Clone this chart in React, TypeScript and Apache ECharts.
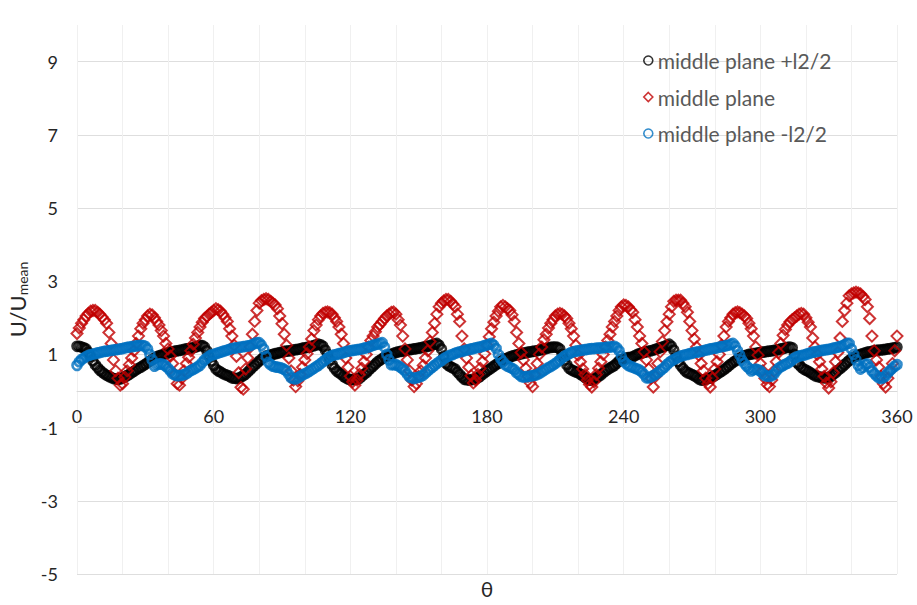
import { useEffect, useRef } from "react";
import * as echarts from "echarts";

// θ positions: first value and step (degrees)
const THETA_START = 0;
const THETA_STEP = 1;

const SERIES_NAMES = ["middle plane +l2/2", "middle plane", "middle plane -l2/2"];

// U/Umean read every 1° (θ = 0 … 360) from the reference
const PLANE_PLUS = [
  1.22, 1.22, 1.2, 1.18, 1.15, 1.06, 0.95, 0.82, 0.72, 0.64,
  0.57, 0.52, 0.47, 0.43, 0.4, 0.37, 0.34, 0.33, 0.32, 0.33,
  0.36, 0.39, 0.42, 0.46, 0.5, 0.54, 0.58, 0.62, 0.65, 0.69,
  0.73, 0.78, 0.82, 0.86, 0.9, 0.93, 0.96, 0.98, 1.0, 1.02,
  1.04, 1.06, 1.07, 1.09, 1.1, 1.11, 1.12, 1.14, 1.15, 1.16,
  1.17, 1.18, 1.2, 1.22, 1.25, 1.24, 1.2, 1.1, 0.95, 0.82,
  0.7, 0.6, 0.55, 0.52, 0.48, 0.45, 0.43, 0.4, 0.36, 0.35,
  0.34, 0.35, 0.38, 0.42, 0.46, 0.52, 0.58, 0.64, 0.7, 0.76,
  0.82, 0.87, 0.92, 0.95, 0.97, 0.99, 1.0, 1.02, 1.03, 1.05,
  1.06, 1.08, 1.09, 1.1, 1.1, 1.12, 1.13, 1.14, 1.15, 1.17,
  1.18, 1.19, 1.2, 1.22, 1.24, 1.26, 1.28, 1.26, 1.22, 1.12,
  1.0, 0.85, 0.72, 0.62, 0.55, 0.5, 0.46, 0.4, 0.36, 0.33,
  0.31, 0.31, 0.32, 0.33, 0.34, 0.4, 0.45, 0.5, 0.56, 0.62,
  0.68, 0.74, 0.8, 0.84, 0.88, 0.92, 0.95, 0.98, 1.0, 1.03,
  1.05, 1.07, 1.08, 1.09, 1.1, 1.12, 1.13, 1.14, 1.15, 1.16,
  1.17, 1.18, 1.2, 1.21, 1.22, 1.24, 1.26, 1.28, 1.3, 1.25,
  1.15, 0.95, 0.75, 0.7, 0.66, 0.63, 0.6, 0.52, 0.45, 0.38,
  0.32, 0.31, 0.3, 0.31, 0.32, 0.34, 0.36, 0.4, 0.45, 0.5,
  0.55, 0.59, 0.63, 0.68, 0.72, 0.76, 0.8, 0.84, 0.88, 0.9,
  0.93, 0.95, 0.97, 0.99, 1.0, 1.02, 1.03, 1.05, 1.06, 1.07,
  1.08, 1.09, 1.1, 1.12, 1.13, 1.15, 1.16, 1.18, 1.19, 1.2,
  1.2, 1.19, 1.15, 1.0, 0.85, 0.72, 0.62, 0.58, 0.55, 0.52,
  0.5, 0.46, 0.42, 0.37, 0.33, 0.3, 0.3, 0.33, 0.36, 0.4,
  0.44, 0.5, 0.55, 0.59, 0.63, 0.66, 0.7, 0.76, 0.82, 0.85,
  0.88, 0.9, 0.91, 0.92, 0.93, 0.97, 1.0, 1.02, 1.04, 1.06,
  1.07, 1.09, 1.1, 1.12, 1.14, 1.16, 1.18, 1.2, 1.22, 1.25,
  1.28, 1.22, 1.12, 0.95, 0.8, 0.7, 0.62, 0.55, 0.5, 0.48,
  0.45, 0.42, 0.38, 0.33, 0.3, 0.3, 0.32, 0.34, 0.36, 0.39,
  0.42, 0.46, 0.5, 0.54, 0.58, 0.63, 0.68, 0.73, 0.78, 0.82,
  0.86, 0.9, 0.93, 0.96, 0.98, 1.0, 1.01, 1.02, 1.03, 1.04,
  1.05, 1.06, 1.07, 1.08, 1.09, 1.1, 1.11, 1.12, 1.13, 1.15,
  1.16, 1.18, 1.19, 1.2, 1.18, 1.0, 0.78, 0.72, 0.65, 0.6,
  0.57, 0.54, 0.5, 0.46, 0.42, 0.4, 0.38, 0.37, 0.36, 0.36,
  0.37, 0.4, 0.45, 0.5, 0.56, 0.61, 0.66, 0.72, 0.78, 0.83,
  0.88, 0.92, 0.95, 0.98, 1.0, 1.02, 1.04, 1.06, 1.07, 1.08,
  1.1, 1.11, 1.12, 1.12, 1.13, 1.14, 1.15, 1.16, 1.17, 1.18,
  1.2,
];

const PLANE_MID = [
  1.57, 1.72, 1.85, 1.95, 2.05, 2.12, 2.18, 2.2, 2.2, 2.15,
  2.1, 2.02, 1.95, 1.85, 1.6, 1.3, 0.85, 0.55, 0.35, 0.16,
  0.2, 0.38, 0.55, 0.72, 0.9, 1.1, 1.3, 1.5, 1.7, 1.85,
  1.95, 2.05, 2.1, 2.08, 2.0, 1.9, 1.8, 1.65, 1.5, 1.3,
  1.15, 0.95, 0.75, 0.45, 0.2, 0.16, 0.35, 0.55, 0.75, 0.92,
  1.1, 1.28, 1.45, 1.6, 1.75, 1.88, 1.98, 2.03, 2.1, 2.15,
  2.2, 2.25, 2.22, 2.18, 2.1, 2.0, 1.9, 1.7, 1.5, 1.25,
  0.95, 0.5, 0.1, 0.05, 0.6, 0.9, 1.2, 1.55, 1.9, 2.2,
  2.4, 2.47, 2.5, 2.52, 2.5, 2.45, 2.4, 2.35, 2.25, 2.05,
  1.84, 1.55, 1.25, 0.9, 0.55, 0.3, 0.12, 0.28, 0.45, 0.65,
  0.85, 1.02, 1.2, 1.42, 1.65, 1.8, 1.95, 2.05, 2.12, 2.15,
  2.16, 2.14, 2.1, 2.0, 1.9, 1.75, 1.55, 1.3, 0.9, 0.65,
  0.4, 0.25, 0.16, 0.3, 0.45, 0.62, 0.8, 1.0, 1.2, 1.38,
  1.5, 1.62, 1.75, 1.82, 1.9, 1.98, 2.05, 2.1, 2.15, 2.16,
  2.1, 1.95, 1.8, 1.5, 1.15, 0.85, 0.55, 0.3, 0.12, 0.2,
  0.4, 0.55, 0.7, 0.9, 1.1, 1.35, 1.6, 1.85, 2.1, 2.3,
  2.4, 2.46, 2.5, 2.5, 2.45, 2.38, 2.3, 2.1, 1.9, 1.5,
  1.15, 0.9, 0.65, 0.42, 0.22, 0.3, 0.45, 0.62, 0.8, 1.02,
  1.25, 1.48, 1.7, 1.88, 2.05, 2.18, 2.3, 2.34, 2.3, 2.25,
  2.2, 2.08, 1.9, 1.6, 1.3, 1.05, 0.85, 0.62, 0.4, 0.22,
  0.12, 0.45, 0.75, 1.0, 1.2, 1.4, 1.55, 1.72, 1.85, 1.95,
  2.05, 2.1, 2.12, 2.1, 2.05, 1.98, 1.85, 1.7, 1.5, 1.25,
  0.98, 0.8, 0.6, 0.45, 0.3, 0.18, 0.11, 0.25, 0.45, 0.62,
  0.8, 1.0, 1.2, 1.38, 1.55, 1.75, 1.9, 2.05, 2.2, 2.3,
  2.35, 2.34, 2.3, 2.22, 2.15, 1.95, 1.75, 1.5, 1.3, 1.07,
  0.85, 0.6, 0.35, 0.11, 0.4, 0.75, 1.07, 1.35, 1.65, 1.89,
  2.1, 2.3, 2.45, 2.48, 2.48, 2.48, 2.4, 2.3, 2.15, 1.9,
  1.65, 1.42, 1.2, 0.98, 0.75, 0.55, 0.35, 0.2, 0.11, 0.35,
  0.6, 0.8, 1.0, 1.25, 1.5, 1.75, 1.9, 2.0, 2.1, 2.14,
  2.16, 2.14, 2.1, 2.05, 1.98, 1.85, 1.7, 1.5, 1.2, 0.98,
  0.75, 0.55, 0.35, 0.18, 0.12, 0.3, 0.55, 0.8, 1.05, 1.3,
  1.52, 1.68, 1.8, 1.89, 1.95, 2.0, 2.05, 2.1, 2.12, 2.1,
  2.0, 1.88, 1.75, 1.45, 1.2, 1.0, 0.8, 0.6, 0.4, 0.22,
  0.08, 0.25, 0.5, 0.8, 1.05, 1.45, 1.9, 2.2, 2.4, 2.6,
  2.65, 2.68, 2.7, 2.68, 2.65, 2.58, 2.5, 2.3, 1.98, 1.5,
  1.1, 0.85, 0.65, 0.4, 0.2, 0.11, 0.35, 0.55, 0.75, 1.1,
  1.5,
];

const PLANE_MINUS = [
  0.7, 0.8, 0.86, 0.9, 0.94, 0.97, 0.99, 1.01, 1.02, 1.04,
  1.05, 1.07, 1.08, 1.09, 1.1, 1.11, 1.12, 1.13, 1.14, 1.15,
  1.16, 1.18, 1.19, 1.2, 1.21, 1.22, 1.23, 1.24, 1.25, 1.24,
  1.22, 1.15, 1.0, 0.85, 0.68, 0.72, 0.74, 0.74, 0.72, 0.68,
  0.62, 0.55, 0.47, 0.44, 0.42, 0.42, 0.43, 0.45, 0.47, 0.52,
  0.56, 0.59, 0.62, 0.66, 0.7, 0.78, 0.85, 0.9, 0.95, 0.98,
  1.0, 1.02, 1.04, 1.06, 1.08, 1.1, 1.12, 1.14, 1.16, 1.17,
  1.18, 1.19, 1.2, 1.21, 1.22, 1.23, 1.24, 1.27, 1.3, 1.32,
  1.32, 1.25, 1.15, 0.95, 0.78, 0.72, 0.68, 0.66, 0.65, 0.64,
  0.62, 0.59, 0.55, 0.45, 0.36, 0.34, 0.33, 0.36, 0.4, 0.44,
  0.47, 0.5, 0.54, 0.58, 0.62, 0.66, 0.7, 0.75, 0.8, 0.85,
  0.9, 0.94, 0.97, 0.99, 1.0, 1.02, 1.03, 1.05, 1.07, 1.09,
  1.1, 1.11, 1.12, 1.13, 1.14, 1.15, 1.17, 1.18, 1.2, 1.22,
  1.25, 1.27, 1.28, 1.3, 1.32, 1.2, 1.0, 0.85, 0.72, 0.72,
  0.72, 0.69, 0.65, 0.6, 0.55, 0.46, 0.38, 0.36, 0.34, 0.36,
  0.38, 0.4, 0.43, 0.49, 0.55, 0.6, 0.65, 0.7, 0.75, 0.8,
  0.83, 0.88, 0.92, 0.95, 0.98, 1.0, 1.03, 1.05, 1.07, 1.08,
  1.1, 1.12, 1.13, 1.15, 1.16, 1.18, 1.19, 1.2, 1.22, 1.24,
  1.26, 1.28, 1.3, 1.25, 1.16, 1.0, 0.88, 0.8, 0.72, 0.68,
  0.65, 0.62, 0.58, 0.5, 0.45, 0.4, 0.38, 0.39, 0.4, 0.41,
  0.42, 0.43, 0.45, 0.48, 0.52, 0.56, 0.6, 0.64, 0.67, 0.71,
  0.75, 0.8, 0.85, 0.9, 0.95, 0.98, 1.02, 1.05, 1.07, 1.09,
  1.1, 1.11, 1.12, 1.13, 1.14, 1.15, 1.16, 1.16, 1.17, 1.17,
  1.18, 1.18, 1.19, 1.2, 1.2, 1.21, 1.22, 1.18, 1.1, 0.95,
  0.82, 0.75, 0.7, 0.67, 0.65, 0.62, 0.6, 0.57, 0.52, 0.45,
  0.36, 0.36, 0.38, 0.42, 0.45, 0.5, 0.55, 0.6, 0.65, 0.72,
  0.78, 0.82, 0.86, 0.89, 0.92, 0.95, 0.97, 0.99, 1.0, 1.02,
  1.03, 1.05, 1.06, 1.07, 1.08, 1.1, 1.12, 1.13, 1.15, 1.16,
  1.17, 1.18, 1.2, 1.21, 1.22, 1.24, 1.25, 1.28, 1.3, 1.22,
  1.1, 0.98, 0.84, 0.75, 0.68, 0.62, 0.55, 0.58, 0.6, 0.58,
  0.55, 0.48, 0.42, 0.41, 0.4, 0.42, 0.46, 0.55, 0.62, 0.66,
  0.7, 0.73, 0.76, 0.8, 0.85, 0.9, 0.93, 0.95, 0.97, 0.98,
  1.0, 1.02, 1.04, 1.06, 1.07, 1.08, 1.1, 1.11, 1.12, 1.13,
  1.14, 1.15, 1.17, 1.18, 1.2, 1.21, 1.23, 1.26, 1.3, 1.3,
  1.15, 1.0, 0.85, 0.7, 0.6, 0.65, 0.72, 0.74, 0.65, 0.55,
  0.48, 0.42, 0.36, 0.34, 0.36, 0.42, 0.5, 0.56, 0.62, 0.68,
  0.72,
];

const X_MIN = 0;
const X_MAX = 360;
const X_INTERVAL = 20;
const X_LABEL_EVERY = 60;
const Y_MIN = -5;
const Y_MAX = 10;

const FONT = "Lato, 'Open Sans', sans-serif";

const GRID = { left: 77, right: 20, top: 25, bottom: 31 };
const CHART_H = 605;

const toPoints = (vals: number[]) => vals.map((v, i) => [THETA_START + i * THETA_STEP, v]);

export default function App() {
  const ref = useRef<HTMLDivElement>(null);

  useEffect(() => {
    if (!ref.current) return;
    const chart = echarts.init(ref.current, undefined, { renderer: "svg" });
    const hollow = (c: string, w = 1.8) => ({ color: "rgba(0,0,0,0)", borderColor: c, borderWidth: w });
    // x axis drawn along y = 0 (offset from the bottom of the grid)
    const plotH = CHART_H - GRID.top - GRID.bottom;
    const zeroOffset = -((0 - Y_MIN) / (Y_MAX - Y_MIN)) * plotH;
    chart.setOption({
      animation: false,
      backgroundColor: "#ffffff",
      textStyle: { fontFamily: FONT },
      grid: { ...GRID, containLabel: false, outerBoundsMode: "none" },
      legend: {
        orient: "vertical",
        left: 638,
        top: 45,
        itemGap: 15.5,
        itemWidth: 9,
        itemHeight: 9,
        textStyle: { fontFamily: FONT, fontSize: 21, color: "#595959" },
        data: [
          { name: SERIES_NAMES[0], icon: "circle", itemStyle: hollow("#000000", 1.6) },
          { name: SERIES_NAMES[1], icon: "diamond", itemStyle: hollow("#c00000", 1.6) },
          { name: SERIES_NAMES[2], icon: "circle", itemStyle: hollow("#0070c0", 1.6) },
        ],
      },
      xAxis: {
        type: "value",
        min: X_MIN,
        max: X_MAX,
        interval: X_INTERVAL,
        position: "bottom",
        offset: zeroOffset,
        name: "θ",
        nameLocation: "middle",
        nameGap: 187,
        nameTextStyle: { fontFamily: FONT, fontSize: 21, color: "#262626" },
        axisLine: { show: true, onZero: false, lineStyle: { color: "#d9d9d9", width: 1 } },
        axisTick: { show: false },
        axisLabel: {
          margin: 16,
          fontFamily: FONT,
          fontSize: 18,
          color: "#262626",
          formatter: (v: number) => (v % X_LABEL_EVERY === 0 ? String(v) : ""),
        },
        splitLine: { show: true, lineStyle: { color: "#f0f0f0", width: 1 } },
      },
      yAxis: {
        type: "value",
        min: Y_MIN,
        max: Y_MAX,
        interval: 1,
        name: "{a|U/U}{b|mean}",
        nameLocation: "middle",
        nameRotate: 90,
        nameGap: 46,
        nameTextStyle: {
          fontFamily: FONT,
          color: "#262626",
          rich: {
            a: { fontFamily: FONT, fontSize: 22, color: "#262626", lineHeight: 26 },
            b: { fontFamily: FONT, fontSize: 14, color: "#262626", lineHeight: 26, padding: [10, 0, 0, 0] },
          },
        },
        axisLine: { show: false },
        axisTick: { show: false },
        axisLabel: {
          margin: 19,
          fontFamily: FONT,
          fontSize: 18,
          color: "#262626",
          formatter: (v: number) => (Math.abs(v) % 2 === 1 ? String(v) : ""),
        },
        splitLine: { show: true, lineStyle: { color: ["#dedede", "rgba(0,0,0,0)"], width: 1 } },
      },
      series: [
        {
          name: SERIES_NAMES[0],
          type: "scatter",
          symbol: "circle",
          symbolSize: 9,
          itemStyle: hollow("#000000", 2.6),
          data: toPoints(PLANE_PLUS),
        },
        {
          name: SERIES_NAMES[1],
          type: "scatter",
          symbol: "diamond",
          symbolSize: 11,
          itemStyle: hollow("#c00000", 2),
          data: toPoints(PLANE_MID),
        },
        {
          name: SERIES_NAMES[2],
          type: "scatter",
          symbol: "circle",
          symbolSize: 9,
          itemStyle: hollow("#0070c0", 2.6),
          data: toPoints(PLANE_MINUS),
        },
      ],
    });
    return () => chart.dispose();
  }, []);

  return <div ref={ref} style={{ position: "fixed", left: 0, top: 0, width: 917, height: 605 }} />;
}
